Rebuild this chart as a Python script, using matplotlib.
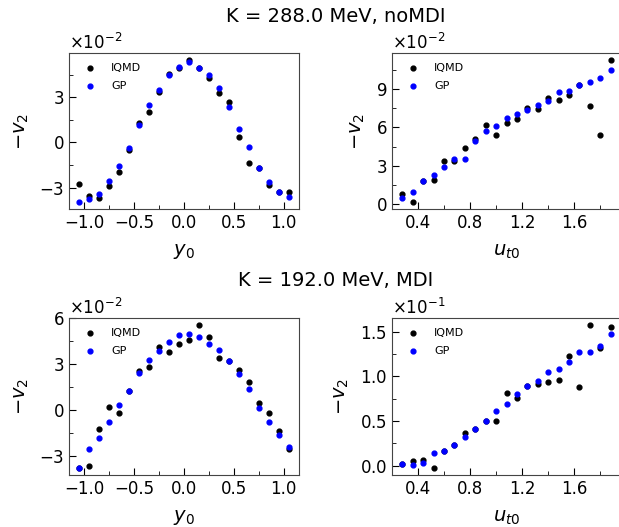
import numpy as np
import matplotlib
matplotlib.use('Agg')
import matplotlib.pyplot as plt
from matplotlib.ticker import MultipleLocator

# rapidity bins (y0) and transverse velocity bins (ut0)
y0_bins = np.array([-1.05, -0.95, -0.85, -0.75, -0.65, -0.55, -0.45, -0.35, -0.25, -0.15, -0.05,
                    0.05, 0.15, 0.25, 0.35, 0.45, 0.55, 0.65, 0.75, 0.85, 0.95, 1.05])
ut0_bins = np.array([0.28, 0.36, 0.44, 0.52, 0.60, 0.68, 0.76, 0.84, 0.92, 1.00, 1.08,
                     1.16, 1.24, 1.32, 1.40, 1.48, 1.56, 1.64, 1.72, 1.80, 1.88])

# K = 288 MeV, noMDI  (-v2 in units of 1e-2)
nomdi_y0_iqmd = np.array([-2.78, -3.55, -3.71, -2.87, -1.96, -0.51, 1.30, 1.99, 3.33, 4.55, 4.92,
                          5.47, 4.92, 4.30, 3.31, 2.69, 0.33, -1.37, -1.68, -2.83, -3.31, -3.27]) * 1e-2
nomdi_y0_gp = np.array([-3.95, -3.75, -3.40, -2.54, -1.59, -0.38, 1.15, 2.47, 3.51, 4.46, 5.03,
                        5.36, 4.92, 4.46, 3.62, 2.38, 0.88, -0.33, -1.68, -2.60, -3.31, -3.64]) * 1e-2
nomdi_ut_iqmd = np.array([0.78, 0.16, 1.83, 1.85, 3.37, 3.37, 4.38, 5.06, 6.21, 5.40, 6.34,
                          6.63, 7.49, 7.41, 8.30, 8.17, 8.53, 9.34, 7.64, 5.37, 11.27]) * 1e-2
nomdi_ut_gp = np.array([0.50, 0.91, 1.83, 2.24, 2.92, 3.52, 3.55, 4.90, 5.69, 6.08, 6.76,
                        7.07, 7.33, 7.75, 8.06, 8.74, 8.87, 9.34, 9.57, 9.84, 10.46]) * 1e-2

# K = 192 MeV, MDI
mdi_y0_iqmd = np.array([-3.81, -3.68, -1.23, 0.15, -0.18, 1.26, 2.56, 2.78, 4.12, 3.81, 4.32,
                        4.58, 5.55, 4.78, 3.39, 3.22, 2.60, 1.81, 0.42, -0.18, -1.39, -2.60]) * 1e-2
mdi_y0_gp = np.array([-3.81, -2.56, -1.85, -0.79, 0.31, 1.26, 2.42, 3.28, 3.88, 4.43, 4.89,
                      5.00, 4.78, 4.34, 3.92, 3.22, 2.33, 1.37, 0.09, -0.77, -1.67, -2.42]) * 1e-2
mdi_ut_iqmd = np.array([0.015, 0.049, 0.067, -0.026, 0.168, 0.235, 0.362, 0.407, 0.496, 0.496, 0.817,
                        0.757, 0.892, 0.914, 0.933, 0.955, 1.231, 0.884, 1.575, 1.313, 1.549]) * 1e-1
mdi_ut_gp = np.array([0.015, 0.011, 0.030, 0.142, 0.168, 0.235, 0.321, 0.407, 0.496, 0.608, 0.687,
                      0.799, 0.892, 0.948, 1.045, 1.082, 1.160, 1.269, 1.269, 1.340, 1.481]) * 1e-1

titles = ['K = 288.0 MeV, noMDI', 'K = 192.0 MeV, MDI']

fig = plt.figure(figsize=(6.19, 5.27), dpi=100)

W, H = 619, 527
def px_axes(l, t, r, b):
    return fig.add_axes([l / W, 1 - b / H, (r - l) / W, (b - t) / H])

ax_tl = px_axes(69, 53, 299, 209)
ax_tr = px_axes(392, 53, 621, 209)
ax_bl = px_axes(69, 318, 299, 475)
ax_br = px_axes(392, 318, 621, 475)

panels = [
    (ax_tl, y0_bins, nomdi_y0_iqmd, nomdi_y0_gp, r'$y_0$', 0.5, 0.25, 3e-2),
    (ax_tr, ut0_bins, nomdi_ut_iqmd, nomdi_ut_gp, r'$u_{t0}$', 0.4, 0.2, 3e-2),
    (ax_bl, y0_bins, mdi_y0_iqmd, mdi_y0_gp, r'$y_0$', 0.5, 0.25, 3e-2),
    (ax_br, ut0_bins, mdi_ut_iqmd, mdi_ut_gp, r'$u_{t0}$', 0.4, 0.2, 0.5e-1),
]

for ax, x, iqmd, gp, xlab, xmaj, xmin, ymaj in panels:
    ax.scatter(x, iqmd, s=12, color='k', label='IQMD', zorder=2)
    ax.scatter(x, gp, s=12, color='b', label='GP', zorder=3)
    ax.set_xlabel(xlab, fontsize=14, labelpad=7)
    ax.set_ylabel(r'$-v_2$', fontsize=14, labelpad=6)
    ax.xaxis.set_major_locator(MultipleLocator(xmaj))
    ax.xaxis.set_minor_locator(MultipleLocator(xmin))
    ax.yaxis.set_major_locator(MultipleLocator(ymaj))
    ax.yaxis.set_minor_locator(MultipleLocator(ymaj / 2))
    ax.ticklabel_format(style='sci', axis='y', scilimits=(0, 0), useMathText=True)
    ax.yaxis.get_offset_text().set_fontsize(12)
    ax.tick_params(which='both', direction='in', labelsize=12)
    ax.tick_params(which='major', length=5)
    ax.tick_params(which='minor', length=3)
    for sp in ax.spines.values():
        sp.set_color('#444444')
    ax.legend(loc='upper left', frameon=False, fontsize=8, handletextpad=0.9,
              labelspacing=0.7, borderaxespad=0.5, scatterpoints=1)

fig.text(336 / W, 1 - 17 / H, titles[0], ha='center', va='center', fontsize=14)
fig.text(336 / W, 1 - 280 / H, titles[1], ha='center', va='center', fontsize=14)

fig.savefig('out.png', dpi=100)
